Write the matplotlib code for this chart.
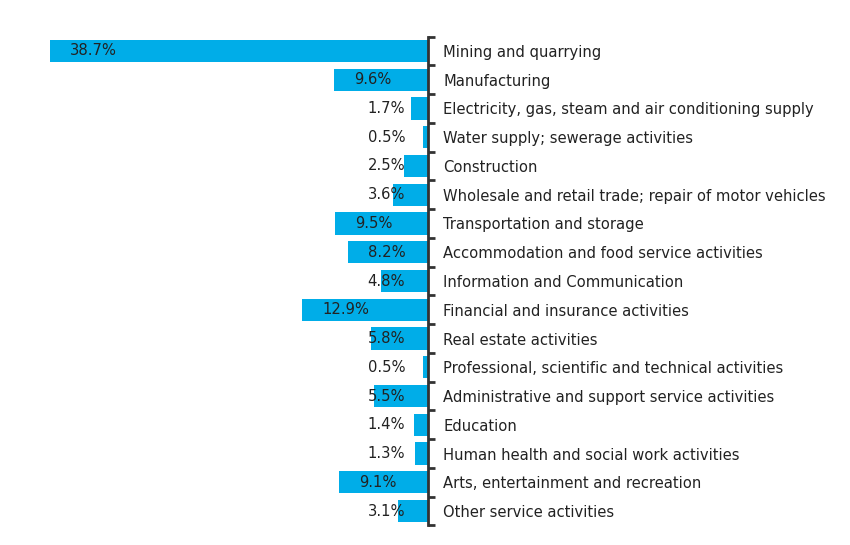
import matplotlib.pyplot as plt
import numpy as np

plt.rcParams['font.family'] = ['DejaVu Sans', 'DejaVu Sans']
plt.rcParams['font.stretch'] = 'condensed'

# Share by sector (%)
sectors = [
    "Mining and quarrying",
    "Manufacturing",
    "Electricity, gas, steam and air conditioning supply",
    "Water supply; sewerage activities",
    "Construction",
    "Wholesale and retail trade; repair of motor vehicles",
    "Transportation and storage",
    "Accommodation and food service activities",
    "Information and Communication",
    "Financial and insurance activities",
    "Real estate activities",
    "Professional, scientific and technical activities",
    "Administrative and support service activities",
    "Education",
    "Human health and social work activities",
    "Arts, entertainment and recreation",
    "Other service activities",
]
shares = [38.7, 9.6, 1.7, 0.5, 2.5, 3.6, 9.5, 8.2, 4.8, 12.9, 5.8, 0.5, 5.5, 1.4, 1.3, 9.1, 3.1]

bar_color = "#00ADE8"
text_color = "#222222"
fs = 11.8

fig = plt.figure(figsize=(8.5, 5.45), dpi=100)
ax = fig.add_axes([0, (545 - 525.4) / 545, 428 / 850, (525.4 - 36.6) / 545])

y = np.arange(len(sectors))
ax.barh(y, [-v for v in shares], height=0.77, color=bar_color)

ax.set_xlim(-428 / 9.77, 0)
ax.set_ylim(len(sectors) - 0.5, -0.5)

# value labels
for i, v in enumerate(shares):
    if v >= 8:
        ax.text(-v + 2.05, i, f"{v}%", ha="left", va="center", fontsize=fs, color=text_color)
    else:
        ax.text(-2.35, i, f"{v}%", ha="right", va="center", fontsize=fs, color=text_color)

# axis on the right with bracket ticks
for s in ["top", "left", "bottom"]:
    ax.spines[s].set_visible(False)
ax.spines["right"].set_color("#333333")
ax.spines["right"].set_linewidth(2)
ax.set_xticks([])
ax.yaxis.tick_right()
ax.set_yticks(np.arange(-0.5, len(sectors), 1.0))
ax.set_yticklabels([])
ax.tick_params(axis="y", which="major", direction="out", length=5, width=2, color="#333333")
ax.set_yticks(y, minor=True)
ax.set_yticklabels(sectors, minor=True, fontsize=fs, color=text_color)
ax.tick_params(axis="y", which="minor", length=0, pad=11)

fig.savefig("out.png", dpi=100)
